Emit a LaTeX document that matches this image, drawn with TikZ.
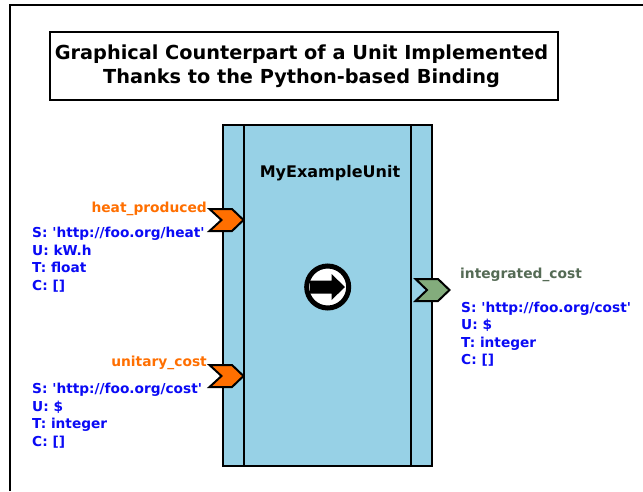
\documentclass[tikz,border=0pt]{standalone}
\usepackage{fontspec}
\setmainfont{DejaVu Sans}
\definecolor{unitblue}{HTML}{97D1E6}
\definecolor{inorange}{HTML}{FF6F00}
\definecolor{outgreen}{HTML}{83AC7C}
\definecolor{outname}{HTML}{556B55}
\definecolor{infoblue}{HTML}{0A0AF5}
\tikzset{
  inname/.style={anchor=base east,inner sep=0pt,text=inorange,font=\bfseries\fontsize{13.8}{13.8}\selectfont},
  outlabel/.style={anchor=base west,inner sep=0pt,text=outname,font=\bfseries\fontsize{13.8}{13.8}\selectfont},
  info/.style={anchor=north west,inner sep=0pt,align=left,text=infoblue,font=\bfseries\fontsize{13.7}{17.6}\selectfont},
  port/.style={draw=black,line width=2pt,line join=miter}
}
\begin{document}
\begin{tikzpicture}[x=1pt,y=-1pt]
    \useasboundingbox (0,0) rectangle (643,491);
    \fill[white] (0,0) rectangle (643,491);
    % frame
    \draw[black,line width=2pt] (10,491) -- (10,5) -- (643,5);
    % title
    \draw[black,line width=2pt] (49.5,32) rectangle (558,100);
    \node[inner sep=0pt,align=center,font=\bfseries\fontsize{19.3}{24}\selectfont] (title) at (301.5,66.5)
      {Graphical Counterpart of a Unit Implemented\\Thanks to the Python-based Binding};
    % unit
    \draw[black,line width=2pt,fill=unitblue] (223,125) rectangle (432,466);
    \draw[black,line width=2pt] (244,125) -- (244,466);
    \draw[black,line width=2pt] (411,125) -- (411,466);
    \node[anchor=base,inner sep=0pt,font=\bfseries\fontsize{16}{16}\selectfont] (unitname) at (330,177) {MyExampleUnit};
    % ports
    \draw[port,fill=inorange] (209.5,209) -- (232,209) -- (243.5,220) -- (232,231) -- (209.5,231) -- (221.5,220) -- cycle;
    \draw[port,fill=inorange] (209.5,365) -- (232,365) -- (243.5,376) -- (232,387) -- (209.5,387) -- (221.5,376) -- cycle;
    \draw[port,fill=outgreen] (415.5,279) -- (438,279) -- (449.5,290) -- (438,301) -- (415.5,301) -- (427,290) -- cycle;
    % run symbol
    \draw[black,line width=5pt,fill=white] (327.7,287) circle (21pt);
    \fill[black] (310,280.5) -- (331.5,280.5) -- (331.5,274) -- (345,287) -- (331.5,300) -- (331.5,293.5) -- (310,293.5) -- cycle;
    % labels
    \node[inname] (heatname) at (207,212) {heat\_produced};
    \node[info] (heatinfo) at (32,227) {S: \textquotesingle http://foo.org/heat\textquotesingle\\U: kW.h\\T: float\\C: []};
    \node[inname] (costname) at (207,366) {unitary\_cost};
    \node[info] (costinfo) at (32,383) {S: \textquotesingle http://foo.org/cost\textquotesingle\\U: \$\\T: integer\\C: []};
    \node[outlabel] (intname) at (460,278) {integrated\_cost};
    \node[info] (intinfo) at (461,301.5) {S: \textquotesingle http://foo.org/cost\textquotesingle\\U: \$\\T: integer\\C: []};
  \end{tikzpicture}
\end{document}
